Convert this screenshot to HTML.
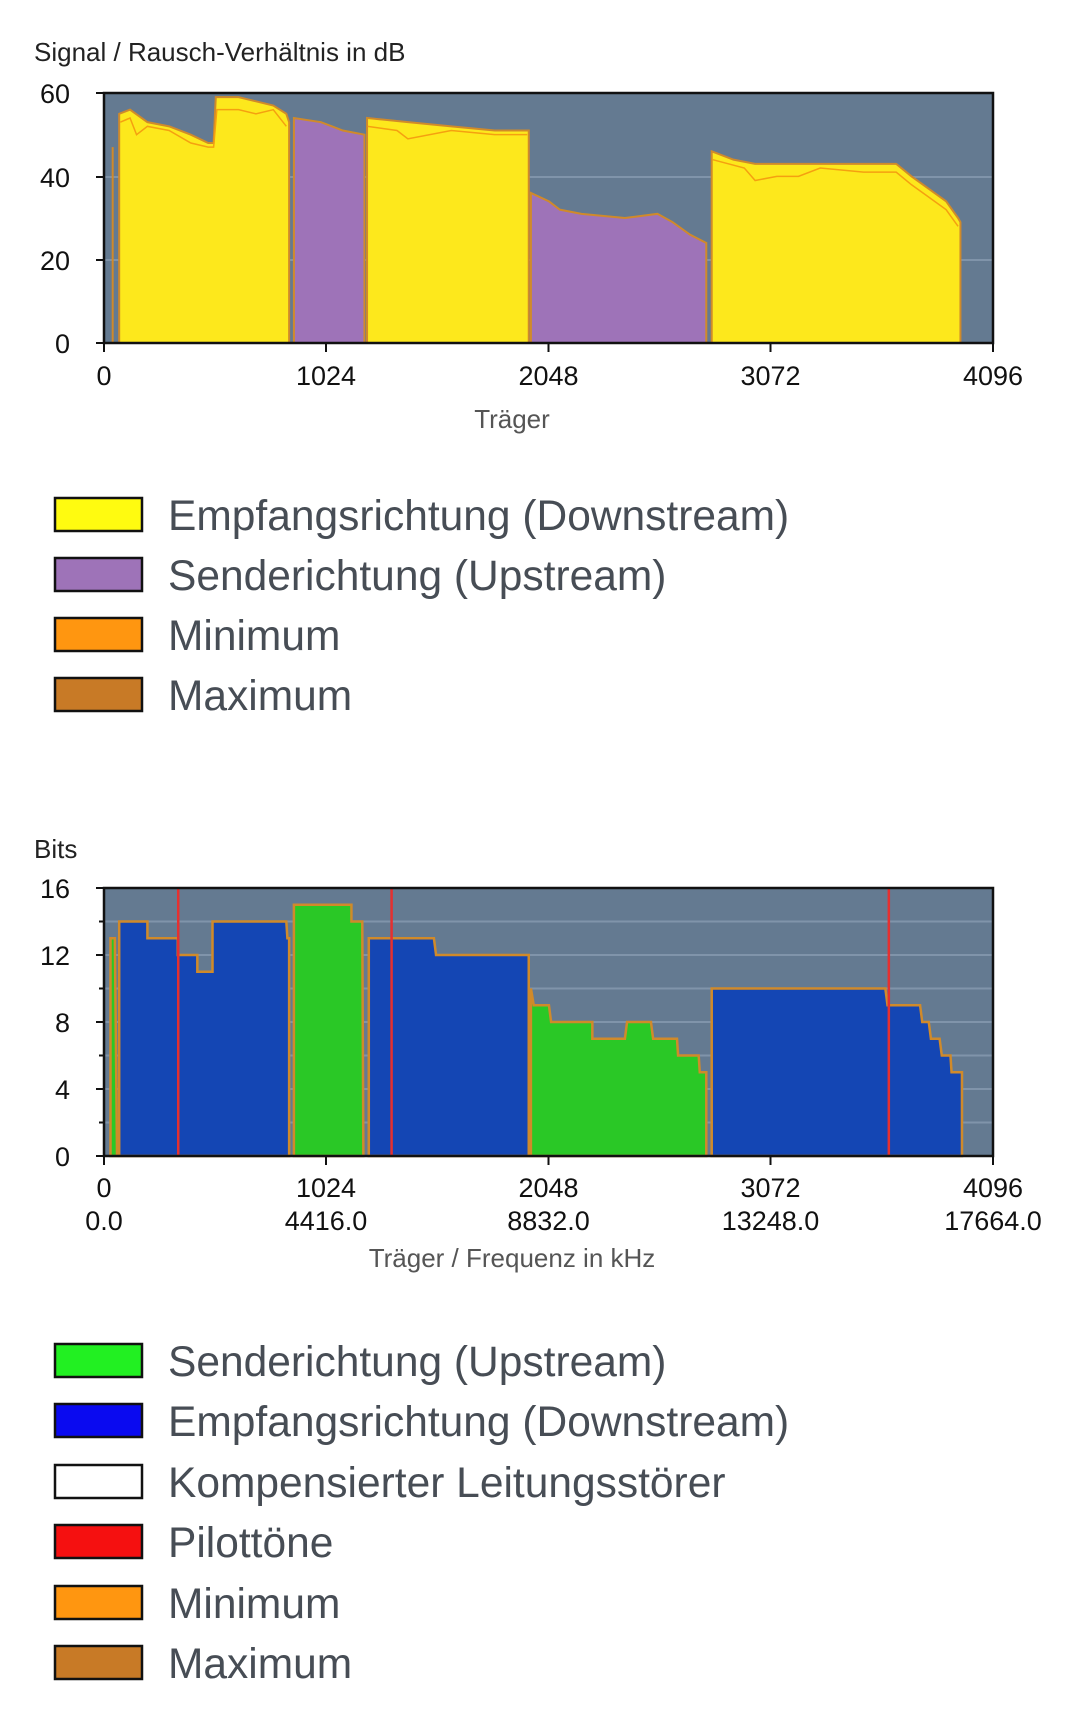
<!DOCTYPE html>
<html><head><meta charset="utf-8"><style>
html,body{margin:0;padding:0;background:#fff;}
body{width:1080px;height:1716px;position:relative;overflow:hidden;font-family:"Liberation Sans",sans-serif;}
svg text{font-family:"Liberation Sans",sans-serif;}
</style></head><body>
<svg width="1080" height="1716" viewBox="0 0 1080 1716" xmlns="http://www.w3.org/2000/svg">
<!-- Chart 1 -->
<text x="34" y="61" font-size="26" fill="#222">Signal / Rausch-Verhältnis in dB</text>
<rect x="104" y="93" width="889" height="250" fill="#647a91"/>
<line x1="104" y1="177" x2="993" y2="177" stroke="#8094aa" stroke-width="2"/>
<line x1="104" y1="260" x2="993" y2="260" stroke="#8094aa" stroke-width="2"/>
<g transform="translate(104,343) scale(0.217041,-4.16667)">
<g stroke="#d08a2a" stroke-width="2" vector-effect="non-scaling-stroke">
<polygon vector-effect="non-scaling-stroke" fill="#fde81c" points="70,0 70,55 120,56 200,53 300,52 400,50 480,48 505,48 515,59 620,59 700,58 780,57 840,55 853,53 853,0"/>
<polygon vector-effect="non-scaling-stroke" fill="#9e73b8" points="875,0 875,54 1000,53 1100,51 1200,50 1200,0"/>
<polygon vector-effect="non-scaling-stroke" fill="#fde81c" points="1212,0 1212,54 1400,53 1600,52 1800,51 1957,51 1957,0"/>
<polygon vector-effect="non-scaling-stroke" fill="#9e73b8" points="1967,0 1967,36 2050,34 2100,32 2200,31 2400,30 2550,31 2620,29 2700,26 2775,24 2775,0"/>
<polygon vector-effect="non-scaling-stroke" fill="#fde81c" points="2800,0 2800,46 2900,44 3000,43 3100,43 3300,43 3500,43 3650,43 3720,40 3800,37 3880,34 3935,30 3946,29 3946,0"/>
<polyline vector-effect="non-scaling-stroke" fill="none" points="40,0 40,47"/>
</g>
<g stroke="#f5a010" stroke-width="1.5" fill="none">
<polyline vector-effect="non-scaling-stroke" points="75,53 120,54 150,50 200,52 300,51 400,48 480,47 505,47 520,56 620,56 700,55 780,56 840,52"/>
<polyline vector-effect="non-scaling-stroke" points="1215,52 1350,51 1400,49 1600,51 1800,50 1950,50"/>
<polyline vector-effect="non-scaling-stroke" points="2805,44 2950,42 3000,39 3100,40 3200,40 3300,42 3500,41 3650,41 3720,38 3800,35 3880,32 3935,28"/>
</g>
</g>
<rect x="104" y="93" width="889" height="250" fill="none" stroke="#111" stroke-width="2.5"/>
<g stroke="#111" stroke-width="2">
<line x1="96" y1="93" x2="104" y2="93"/><line x1="96" y1="177" x2="104" y2="177"/><line x1="96" y1="260" x2="104" y2="260"/><line x1="96" y1="343" x2="104" y2="343"/>
<line x1="104" y1="343" x2="104" y2="352"/><line x1="326" y1="343" x2="326" y2="352"/><line x1="548.5" y1="343" x2="548.5" y2="352"/><line x1="770.5" y1="343" x2="770.5" y2="352"/><line x1="993" y1="343" x2="993" y2="352"/>
</g>
<g font-size="27" fill="#111" text-anchor="end">
<text x="70" y="103">60</text><text x="70" y="187">40</text><text x="70" y="270">20</text><text x="70" y="353">0</text>
</g>
<g font-size="27" fill="#111" text-anchor="middle">
<text x="104" y="385">0</text><text x="326" y="385">1024</text><text x="548.5" y="385">2048</text><text x="770.5" y="385">3072</text><text x="993" y="385">4096</text>
</g>
<text x="512" y="428" font-size="26" fill="#555" text-anchor="middle">Träger</text>
<!-- Legend 1 -->
<g stroke="#111" stroke-width="2.5">
<rect x="55" y="498" width="87" height="33" fill="#fffb10"/>
<rect x="55" y="558" width="87" height="33" fill="#9e73b8"/>
<rect x="55" y="618" width="87" height="33" fill="#ff9610"/>
<rect x="55" y="678" width="87" height="33" fill="#c87a26"/>
</g>
<g font-size="42.5" fill="#474d55">
<text x="168" y="530">Empfangsrichtung (Downstream)</text>
<text x="168" y="590">Senderichtung (Upstream)</text>
<text x="168" y="650">Minimum</text>
<text x="168" y="710">Maximum</text>
</g>
<!-- Chart 2 -->
<text x="34" y="858" font-size="26" fill="#222">Bits</text>
<rect x="104" y="888" width="889" height="268" fill="#647a91"/>
<g stroke="#8094aa" stroke-width="2">
<line x1="104" y1="921.5" x2="993" y2="921.5"/><line x1="104" y1="955" x2="993" y2="955"/><line x1="104" y1="988.5" x2="993" y2="988.5"/><line x1="104" y1="1022" x2="993" y2="1022"/><line x1="104" y1="1055.5" x2="993" y2="1055.5"/><line x1="104" y1="1089" x2="993" y2="1089"/><line x1="104" y1="1122.5" x2="993" y2="1122.5"/>
</g>
<g transform="translate(104,1156) scale(0.217041,-16.75)">
<g stroke="#d08a2a" stroke-width="2.5">
<polygon vector-effect="non-scaling-stroke" fill="#2ac826" points="30,0 30,13 50,13 60,0"/>
<polygon vector-effect="non-scaling-stroke" fill="#1446b4" points="70,0 70,14 200,14 200,13 340,13 340,12 430,12 430,11 500,11 500,14 840,14 845,13 853,13 853,0"/>
<polygon vector-effect="non-scaling-stroke" fill="#2ac826" points="875,0 875,15 1140,15 1140,14 1190,14 1195,0"/>
<polygon vector-effect="non-scaling-stroke" fill="#1446b4" points="1220,0 1220,13 1520,13 1530,12 1957,12 1957,0"/>
<polygon vector-effect="non-scaling-stroke" fill="#2ac826" points="1967,0 1967,10 1980,9 2050,9 2060,8 2250,8 2250,7 2400,7 2410,8 2520,8 2530,7 2640,7 2645,6 2740,6 2745,5 2775,5 2775,0"/>
<polygon vector-effect="non-scaling-stroke" fill="#1446b4" points="2800,0 2800,10 3600,10 3610,9 3760,9 3770,8 3800,8 3810,7 3850,7 3860,6 3900,6 3905,5 3953,5 3953,0"/>
</g>
<g stroke="#e53030" stroke-width="2.5">
<line vector-effect="non-scaling-stroke" x1="342" y1="0" x2="342" y2="16"/>
<line vector-effect="non-scaling-stroke" x1="1325" y1="0" x2="1325" y2="16"/>
<line vector-effect="non-scaling-stroke" x1="3616" y1="0" x2="3616" y2="16"/>
</g>
</g>
<rect x="104" y="888" width="889" height="268" fill="none" stroke="#111" stroke-width="2.5"/>
<g stroke="#111" stroke-width="2">
<line x1="96" y1="888" x2="104" y2="888"/><line x1="96" y1="955" x2="104" y2="955"/><line x1="96" y1="1022" x2="104" y2="1022"/><line x1="96" y1="1089" x2="104" y2="1089"/><line x1="96" y1="1156" x2="104" y2="1156"/>
<line x1="99" y1="921.5" x2="104" y2="921.5"/><line x1="99" y1="988.5" x2="104" y2="988.5"/><line x1="99" y1="1055.5" x2="104" y2="1055.5"/><line x1="99" y1="1122.5" x2="104" y2="1122.5"/>
<line x1="104" y1="1156" x2="104" y2="1165"/><line x1="326" y1="1156" x2="326" y2="1165"/><line x1="548.5" y1="1156" x2="548.5" y2="1165"/><line x1="770.5" y1="1156" x2="770.5" y2="1165"/><line x1="993" y1="1156" x2="993" y2="1165"/>
</g>
<g font-size="27" fill="#111" text-anchor="end">
<text x="70" y="898">16</text><text x="70" y="965">12</text><text x="70" y="1032">8</text><text x="70" y="1099">4</text><text x="70" y="1166">0</text>
</g>
<g font-size="27" fill="#111" text-anchor="middle">
<text x="104" y="1197">0</text><text x="326" y="1197">1024</text><text x="548.5" y="1197">2048</text><text x="770.5" y="1197">3072</text><text x="993" y="1197">4096</text>
<text x="104" y="1230">0.0</text><text x="326" y="1230">4416.0</text><text x="548.5" y="1230">8832.0</text><text x="770.5" y="1230">13248.0</text><text x="993" y="1230">17664.0</text>
</g>
<text x="512" y="1267" font-size="26" fill="#555" text-anchor="middle">Träger / Frequenz in kHz</text>
<!-- Legend 2 -->
<g stroke="#111" stroke-width="2.5">
<rect x="55" y="1344" width="87" height="33" fill="#22f022"/>
<rect x="55" y="1404" width="87" height="33" fill="#0a0af0"/>
<rect x="55" y="1465" width="87" height="33" fill="#ffffff"/>
<rect x="55" y="1525" width="87" height="33" fill="#f51010"/>
<rect x="55" y="1586" width="87" height="33" fill="#ff9610"/>
<rect x="55" y="1646" width="87" height="33" fill="#c87a26"/>
</g>
<g font-size="42.5" fill="#474d55">
<text x="168" y="1376">Senderichtung (Upstream)</text>
<text x="168" y="1436">Empfangsrichtung (Downstream)</text>
<text x="168" y="1497">Kompensierter Leitungsstörer</text>
<text x="168" y="1557">Pilottöne</text>
<text x="168" y="1618">Minimum</text>
<text x="168" y="1678">Maximum</text>
</g>
</svg>
</body></html>
